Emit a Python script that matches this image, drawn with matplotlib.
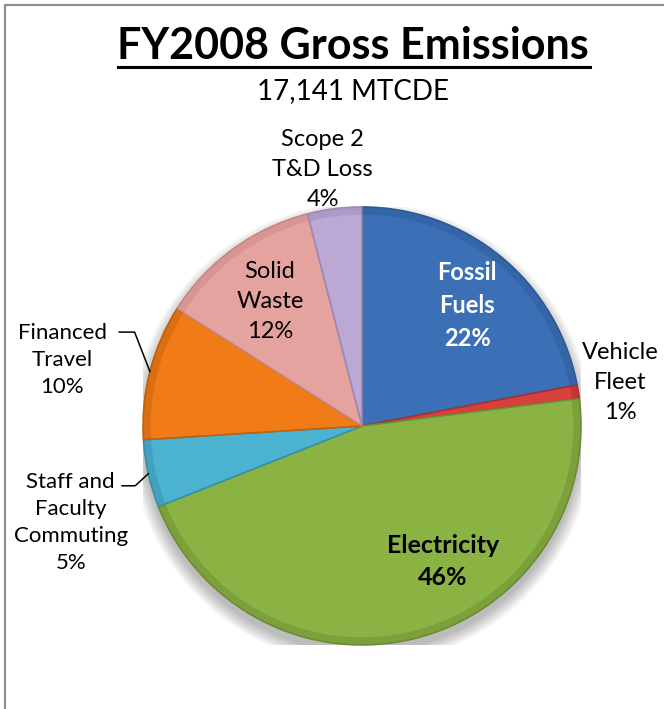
import numpy as np
import matplotlib
matplotlib.use("Agg")
from matplotlib import pyplot as plt
from matplotlib.patches import Rectangle, Circle, Wedge

# data
categories = ["Fossil Fuels", "Vehicle Fleet", "Electricity", "Staff and Faculty Commuting",
              "Financed Travel", "Solid Waste", "Scope 2 T&D Loss"]
shares = [22, 1, 46, 5, 10, 12, 4]
label_texts = ["Fossil\nFuels\n22%", "Vehicle\nFleet\n1%", "Electricity\n46%",
               "Staff and\nFaculty\nCommuting\n5%", "Financed\nTravel\n10%",
               "Solid\nWaste\n12%", "Scope 2\nT&D Loss\n4%"]
colors = ["#3B70B6", "#D8403C", "#8AB344", "#4BB2D0", "#F07B17", "#E5A3A0", "#BBA8D5"]
edge_colors = ["#2D5A95", "#A83030", "#6B8C33", "#3890AA", "#C0600F", "#C98683", "#9A88B6"]

# label placement (in pie radius units) and style
label_pos = [(0.48, 0.55), (1.18, 0.20), (0.37, -0.62), (-1.33, -0.44),
             (-1.37, 0.30), (-0.42, 0.57), (-0.18, 1.17)]
label_color = ["white", "black", "black", "black", "black", "black", "black"]
label_weight = ["bold", "normal", "bold", "normal", "normal", "normal", "normal"]
label_size = [17, 17, 18, 16, 16, 17, 17]
label_ls = [1.53, 1.53, 1.5, 1.43, 1.43, 1.53, 1.53]

plt.rcParams['font.family'] = ['Lato', 'DejaVu Sans']

fig = plt.figure(figsize=(6.64, 7.09), dpi=100)
fig.patches.append(Rectangle((5 / 664, -0.1), 1.2, 1 - 5 / 709 + 0.1, transform=fig.transFigure,
                             fill=False, edgecolor="#8c8c8c", linewidth=1.5))

ax = fig.add_axes([0.2154, 0.0903, 0.6596, 0.6178])
ax.set_xlim(-1, 1)
ax.set_ylim(-1, 1)
ax.set_aspect("equal")
ax.axis("off")

# soft shadow under the pie
for k in range(8):
    ax.add_patch(Circle((0.0, -0.035), 1.0 + 0.008 * k, facecolor="black",
                        alpha=0.035, edgecolor="none", zorder=0))

wedges, _ = ax.pie(shares, colors=colors, startangle=90, counterclock=False, radius=1.0,
                   wedgeprops=dict(linewidth=1.2), frame=False)
for w, ec in zip(wedges, edge_colors):
    w.set_edgecolor(ec)
    w.set_zorder(2)
    # darker rim to hint at the bevel
    ax.add_patch(Wedge((0, 0), 1.0, w.theta1, w.theta2, width=0.035, facecolor=ec,
                       alpha=0.45, edgecolor="none", zorder=3))

ax.set_xlim(-1, 1)
ax.set_ylim(-1, 1)

for i, txt in enumerate(label_texts):
    ax.text(label_pos[i][0], label_pos[i][1], txt, ha="center", va="center",
            fontsize=label_size[i], color=label_color[i], fontweight=label_weight[i],
            linespacing=label_ls[i], zorder=5)

# leader lines for the two outside labels on the left
for i, dy, x0, x1 in ((3, -0.055, 0.12, 0.06), (4, 0.18, 0.14, 0.07)):
    w = wedges[i]
    mid = np.deg2rad((w.theta1 + w.theta2) / 2)
    ex, ey = np.cos(mid), np.sin(mid)
    ax.plot([ex - x0, ex - x1, ex], [ey + dy, ey + dy, ey], color="black", lw=1.1,
            zorder=5, clip_on=False)

fig.text(0.532, 0.935, "FY2008 Gross Emissions", ha="center", va="center",
         fontsize=31, fontweight="bold")
fig.add_artist(plt.Line2D([118 / 664, 590 / 664], [1 - 67 / 709] * 2, color="black", lw=2.2))
fig.text(0.532, 0.871, "17,141 MTCDE", ha="center", va="center", fontsize=20)

fig.savefig("out.png", dpi=100)
